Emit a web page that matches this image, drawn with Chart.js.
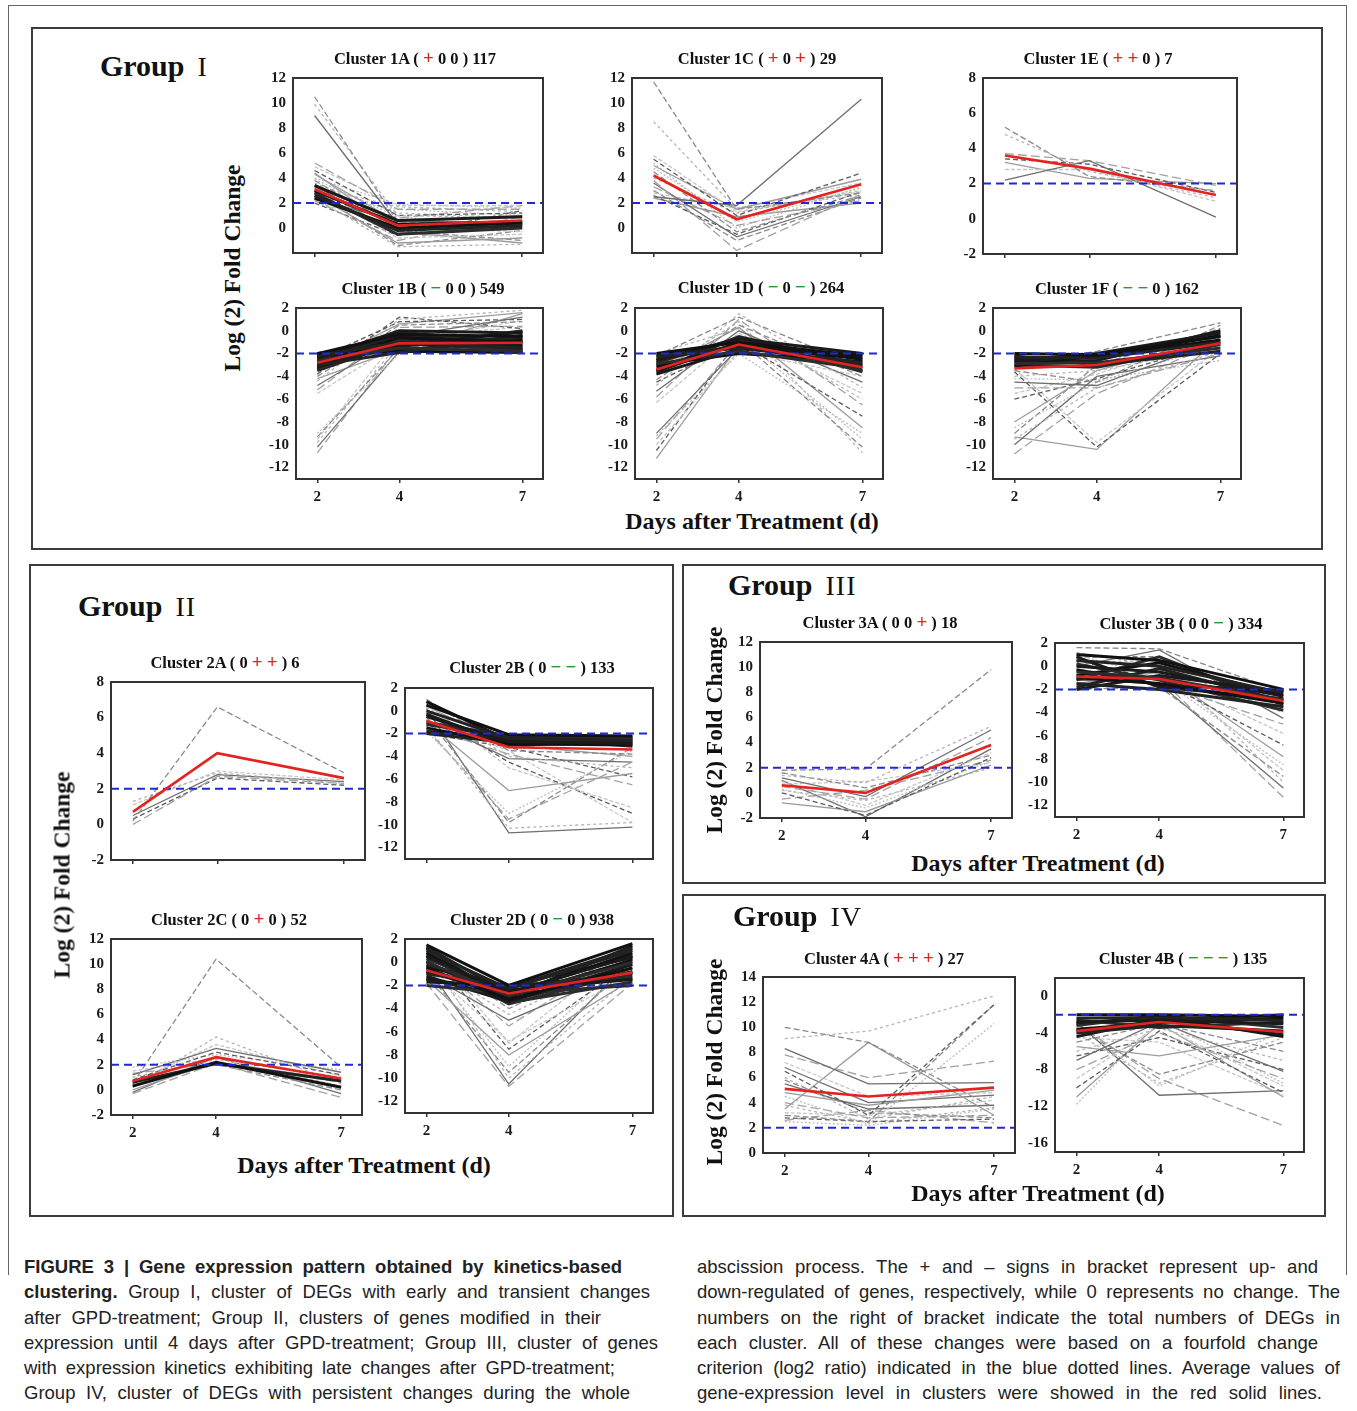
<!DOCTYPE html>
<html>
<head>
<meta charset="utf-8">
<script src="https://cdn.jsdelivr.net/npm/chart.js@4.4.0/dist/chart.umd.min.js"></script>
<style>
body{margin:0;width:1357px;height:1411px;position:relative;background:#fff;overflow:hidden;font-family:"Liberation Serif",serif;}
.frame{position:absolute;border:2px solid #3c3c3c;box-sizing:border-box;}
.outer{position:absolute;border:1px solid #666;border-bottom:none;box-sizing:border-box;}
.grp{position:absolute;font:bold 30px "Liberation Serif";color:#111;white-space:nowrap;}
.grp span{font-weight:normal;font-size:28px;margin-left:13px;letter-spacing:1px;}
.ttl{position:absolute;font:bold 16.5px "Liberation Serif";color:#111;white-space:nowrap;transform:translate(-50%,-50%);}
.ttl span{font-size:19px;}
.ylab{position:absolute;font:bold 23.5px "Liberation Serif";color:#111;white-space:nowrap;transform:translate(-50%,-50%) rotate(-90deg);}
.xlab{position:absolute;font:bold 24px "Liberation Serif";color:#111;white-space:nowrap;transform:translate(-50%,-50%);}
.cap{position:absolute;font:18.5px "Liberation Sans";color:#222;line-height:22px;height:22px;white-space:nowrap;text-align:justify;text-align-last:justify;}
canvas{position:absolute;z-index:1;}
#texts{position:absolute;left:0;top:0;z-index:2;}
</style>
</head>
<body>
<div class="outer" style="left:8px;top:5px;width:1339px;height:1270px"></div>
<div class="frame" style="left:31px;top:27px;width:1292px;height:523px"></div>
<div class="frame" style="left:29px;top:564px;width:645px;height:653px"></div>
<div class="frame" style="left:682px;top:564px;width:644px;height:320px"></div>
<div class="frame" style="left:682px;top:894px;width:644px;height:323px"></div>
<div id="charts"></div>
<div id="texts"></div>
<script>
// days sampled
const days = [2, 4, 7];

// cluster names, regulation signs, gene counts
const clusterNames = ['1A', '1C', '1E', '1B', '1D', '1F', '2A', '2B', '2C', '2D', '3A', '3B', '4A', '4B'];
const clusterSigns = ['+00', '+0+', '++0', '-00', '-0-', '--0', '0++', '0--', '0+0', '0-0', '00+', '00-', '+++', '---'];
const clusterCounts = [117, 29, 7, 549, 264, 162, 6, 133, 52, 938, 18, 334, 27, 135];

// y tick labels
const ticksUp12 = [0, 2, 4, 6, 8, 10, 12];
const ticksUp12b = [-2, 0, 2, 4, 6, 8, 10, 12];
const ticksUp8 = [-2, 0, 2, 4, 6, 8];
const ticksDown = [-12, -10, -8, -6, -4, -2, 0, 2];
const ticks4A = [0, 2, 4, 6, 8, 10, 12, 14];
const ticks4B = [-16, -12, -8, -4, 0];

// ---- Cluster 1A
const avg1A = [3.1, 0.2, 0.6];
const core1A = [[3.0, 0.3, 0.5], [2.6, -0.2, 0.2], [3.4, 0.6, 0.9], [2.8, -0.5, 0.0], [2.4, 0.0, 0.4]];
const genes1A = [[10.5, 0.5, 0.3], [9.9, 1.0, 0.8], [9.0, 0.3, 0.5], [5.2, 1.5, 1.5], [4.9, 1.8, 1.8],
  [4.6, 1.0, 1.2], [4.3, 0.5, 1.0], [4.0, 1.9, 1.6], [3.8, 0.0, 0.4], [3.6, 1.2, 0.8], [3.4, -0.5, 0.2],
  [3.2, 0.8, 1.8], [3.0, -0.8, -0.5], [2.8, 0.3, 0.0], [2.7, -1.2, -0.8], [2.6, 1.5, 1.0], [2.5, -0.2, -1.0],
  [2.4, -1.5, -1.3], [2.3, 0.6, 0.3], [2.2, -1.0, 0.9], [2.1, 0.1, -0.3], [2.0, -0.6, 1.4], [4.4, -0.3, -1.2],
  [3.9, 0.9, 0.0], [2.9, -1.4, -0.2], [3.3, 1.7, 1.3]];

// ---- Cluster 1C
const avg1C = [4.2, 0.7, 3.5];
const core1C = [];
const genes1C = [[11.7, 1.5, 2.8], [8.5, 1.5, 2.6], [2.5, 1.8, 10.3], [3.8, -1.8, 2.7], [5.8, 1.3, 2.9],
  [5.5, 1.0, 4.4], [5.0, 1.5, 3.9], [4.8, 0.5, 3.2], [4.5, -0.3, 2.6], [4.0, 1.2, 3.0], [3.6, -0.7, 2.5],
  [3.3, 0.2, 2.2], [2.8, 1.6, 3.6], [2.6, -0.5, 2.9], [2.4, 0.9, 2.0], [5.2, 0.0, 3.3], [3.0, -1.0, 2.4]];

// ---- Cluster 1E
const avg1E = [3.6, 2.85, 1.35];
const core1E = [];
const genes1E = [[5.2, 2.4, 1.6], [4.8, 2.7, 1.2], [2.2, 3.3, 0.1], [3.7, 3.3, 1.9], [2.8, 2.8, 1.0],
  [3.4, 3.1, 1.5], [3.2, 2.3, 2.0]];

// ---- Cluster 1B
const avg1B = [-2.8, -1.1, -1.05];
const core1B = [[-2.0, -0.3, -0.5], [-2.2, -1.0, -1.5], [-2.4, 0.0, -0.2], [-2.6, -1.5, -1.8], [-2.8, -0.6, -1.0],
  [-3.0, -1.9, -0.4], [-3.2, -1.2, -1.3], [-3.4, -0.8, -1.9], [-2.1, -1.7, -0.8], [-2.5, -0.4, -1.6],
  [-2.9, -1.3, -0.1], [-3.1, -0.1, -1.1], [-2.3, -1.8, -1.9], [-3.5, -1.0, -0.6], [-2.7, -0.2, -1.4],
  [-2.2, -1.4, 0.0], [-3.3, -0.7, -0.9], [-2.0, -1.1, -1.7]];
const genes1B = [[-4.0, 0.5, 0.8], [-4.4, 1.0, 1.8], [-4.8, -0.5, 1.2], [-5.2, 0.3, 0.4], [-5.5, -1.0, 0.9],
  [-3.8, 1.2, 0.2], [-4.2, -1.6, 1.5], [-9.0, -2.0, -1.0], [-9.3, -1.5, -0.5], [-9.8, -1.0, -1.5],
  [-10.2, -1.8, -0.8], [-10.7, -1.3, -1.2], [-9.5, -0.5, 0.3], [-2.5, 0.8, 1.0], [-3.0, 0.6, 1.6]];

// ---- Cluster 1D
const avg1D = [-3.4, -1.2, -3.2];
const core1D = [[-2.0, -1.0, -2.2], [-2.3, -1.5, -2.8], [-2.6, -0.7, -2.0], [-2.9, -1.8, -3.3], [-3.2, -1.2, -2.5],
  [-3.5, -0.5, -3.0], [-3.8, -1.6, -2.1], [-2.2, -0.9, -3.5], [-3.0, -2.0, -2.7], [-2.5, -1.3, -3.1],
  [-3.6, -1.0, -2.4], [-2.8, -0.6, -3.6]];
const genes1D = [[-4.3, 0.5, -4.0], [-4.8, 1.5, -5.0], [-5.3, 0.0, -4.5], [-5.8, 1.0, -6.5], [-6.3, -0.2, -5.5],
  [-4.5, -1.0, -7.5], [-3.5, 0.3, -8.5], [-3.0, -0.5, -9.5], [-2.5, -0.8, -10.2], [-3.8, 0.8, -10.7],
  [-9.0, -1.5, -3.0], [-9.5, -1.0, -2.5], [-10.0, -1.8, -4.0], [-10.5, -0.8, -3.5], [-11.2, -1.3, -2.8],
  [-9.2, -2.0, -9.0], [-2.2, 1.2, -3.2], [-2.0, 0.2, -6.0]];

// ---- Cluster 1F
const avg1F = [-3.3, -3.0, -1.1];
const core1F = [[-2.0, -2.1, -0.5], [-2.3, -2.4, -1.0], [-2.6, -2.0, -0.2], [-2.9, -2.8, -1.5], [-3.1, -2.2, -0.8],
  [-2.2, -3.0, -1.8], [-2.7, -2.6, 0.0], [-3.0, -3.2, -1.2], [-2.4, -2.3, -0.4]];
const genes1F = [[-3.5, -4.5, 0.5], [-4.0, -3.5, -1.5], [-4.5, -4.8, -0.8], [-5.0, -5.0, -2.0], [-5.5, -3.8, -0.3],
  [-6.0, -4.2, -1.0], [-8.0, -3.5, -0.5], [-8.5, -4.5, -1.2], [-9.0, -3.0, 0.2], [-9.5, -5.0, -1.8],
  [-10.0, -4.0, -2.2], [-10.8, -5.5, -1.0], [-3.3, -9.8, -1.5], [-3.6, -10.2, -2.0], [-9.3, -10.4, -0.5],
  [-4.2, -4.3, -2.6], [-2.8, -1.8, 0.7]];

// ---- Cluster 2A
const avg2A = [0.7, 4.0, 2.6];
const core2A = [];
const genes2A = [[0.2, 6.6, 2.9], [1.3, 2.9, 2.3], [0.5, 2.8, 2.4], [0.0, 2.7, 2.3], [1.1, 3.0, 2.5], [0.3, 2.6, 2.2]];

// ---- Cluster 2B
const avg2B = [-0.9, -3.2, -3.4];
const core2B = [[0.5, -2.1, -2.2], [0.0, -2.4, -2.6], [-0.5, -2.7, -2.9], [-1.0, -2.2, -2.4], [-1.5, -2.9, -3.0],
  [-1.8, -2.5, -2.3], [-0.3, -3.0, -2.8], [-1.2, -2.3, -3.1], [0.8, -2.6, -2.5], [-2.0, -2.8, -2.7]];
const genes2B = [[1.0, -3.5, -3.8], [0.3, -4.0, -5.0], [-0.8, -4.2, -4.5], [-1.5, -3.8, -6.5], [0.6, -5.0, -8.5],
  [-0.2, -4.5, -9.0], [-1.0, -7.0, -5.5], [-1.8, -9.0, -3.5], [-0.5, -9.8, -3.2], [-1.3, -10.3, -9.8],
  [0.2, -10.7, -10.2], [-1.6, -9.5, -4.5], [-0.9, -3.5, -9.8], [-2.0, -3.2, -5.8], [0.4, -3.0, -4.0]];

// ---- Cluster 2C
const avg2C = [0.7, 2.6, 0.9];
const core2C = [[0.3, 2.2, 0.2], [0.6, 2.1, 0.7]];
const genes2C = [[0.5, 10.4, 1.8], [0.2, 4.2, 0.5], [1.2, 3.3, 1.4], [-0.3, 2.1, -0.6], [1.5, 2.5, 0.3],
  [0.8, 3.0, 1.2], [0.0, 2.2, 0.8], [1.8, 2.8, 1.6], [0.4, 2.0, 0.0], [1.0, 2.4, 1.0], [-0.2, 2.6, -0.3],
  [1.3, 2.1, 0.6], [0.6, 3.6, 1.1]];

// ---- Cluster 2D
const avg2D = [-0.7, -2.7, -0.9];
const core2D = [[1.5, -2.0, 1.6], [1.0, -2.3, 1.0], [0.5, -2.6, 0.5], [0.0, -2.9, 0.0], [-0.5, -3.2, -0.5],
  [-1.0, -2.1, -1.0], [-1.5, -2.4, -1.5], [-2.0, -2.7, -2.0], [0.8, -3.0, 0.2], [-0.2, -2.2, 1.2],
  [-1.2, -3.4, -0.2], [0.3, -2.5, -1.2], [-0.8, -2.8, 0.8], [1.2, -3.3, -0.8], [-1.7, -2.0, 0.4],
  [0.6, -3.5, -1.7], [-0.4, -2.1, -1.4], [1.3, -2.7, 0.6], [-1.4, -3.0, 1.4], [0.1, -3.6, -0.9]];
const genes2D = [[1.0, -4.0, 1.0], [0.0, -4.5, 0.5], [-1.0, -5.0, -0.5], [0.5, -5.5, 1.2], [-0.5, -6.8, -1.0],
  [1.2, -7.5, 0.0], [-1.5, -8.0, -1.5], [0.2, -9.0, 0.7], [-0.8, -9.5, -0.2], [0.8, -10.0, -1.2],
  [-0.3, -10.5, 0.3], [-1.8, -10.7, -1.8], [1.5, -7.0, 1.5]];

// ---- Cluster 3A
const avg3A = [0.6, 0.0, 3.8];
const core3A = [];
const genes3A = [[1.8, 1.9, 9.8], [1.4, 0.8, 5.3], [1.2, -0.3, 5.0], [0.5, -0.5, 4.4], [0.9, -1.0, 3.2],
  [0.0, -1.8, 2.8], [-0.8, -1.5, 2.2], [0.3, -1.2, 2.5], [1.6, 0.4, 3.0], [0.2, -0.6, 2.0], [1.0, -1.9, 3.5],
  [-0.5, 0.2, 2.6], [0.7, 0.9, 2.4]];

// ---- Cluster 3B
const avg3B = [-0.9, -1.1, -3.0];
const core3B = [[1.0, 0.5, -2.0], [0.5, 0.0, -2.3], [0.0, -0.5, -2.6], [-0.5, -1.0, -2.9], [-1.0, -1.5, -3.2],
  [-1.5, -2.0, -3.5], [-2.0, -0.8, -2.2], [0.2, -1.2, -3.8], [-0.8, 0.3, -2.5], [-1.8, -0.2, -3.0],
  [0.8, -1.8, -2.8], [-1.2, 0.8, -3.3], [-0.3, -1.6, -2.1]];
const genes3B = [[1.6, 1.5, -2.2], [1.2, 0.0, -4.0], [0.0, 1.4, -4.5], [-1.0, -1.5, -5.0], [-0.5, -0.8, -5.8],
  [0.5, -1.2, -6.8], [-1.5, -0.5, -7.8], [1.0, -1.0, -8.5], [-2.0, -1.8, -9.5], [0.3, 0.5, -10.0],
  [-1.2, -1.5, -10.5], [-0.3, -1.0, -11.3], [-1.8, -0.3, -9.0], [0.8, 0.8, -3.5]];

// ---- Cluster 4A
const avg4A = [5.1, 4.5, 5.2];
const core4A = [];
const genes4A = [[10.0, 8.8, 3.6], [9.1, 9.7, 12.5], [8.3, 5.5, 5.6], [7.8, 6.0, 7.3], [7.2, 4.5, 4.8],
  [6.5, 3.0, 11.8], [3.5, 8.8, 3.0], [4.5, 2.3, 10.3], [3.0, 2.5, 11.8], [6.0, 2.7, 4.5], [5.5, 3.5, 3.8],
  [4.0, 2.8, 3.0], [3.2, 3.0, 4.2], [2.8, 2.5, 2.7], [4.8, 3.8, 5.0], [2.5, 2.2, 3.5], [5.8, 3.2, 2.8],
  [3.8, 2.4, 3.6], [6.8, 4.0, 4.6], [2.6, 3.4, 2.4]];

// ---- Cluster 4B
const avg4B = [-3.8, -2.8, -3.9];
const core4B = [[-2.0, -2.0, -2.2], [-2.4, -2.3, -2.6], [-2.8, -2.6, -3.0], [-3.2, -2.1, -3.4], [-3.6, -2.9, -2.4],
  [-4.0, -3.2, -3.8], [-4.4, -2.5, -4.2], [-2.6, -3.4, -2.8], [-3.0, -2.2, -4.4], [-3.8, -2.7, -2.0]];
const genes4B = [[-5.0, -3.0, -6.0], [-6.0, -3.5, -7.0], [-7.0, -2.8, -8.2], [-8.0, -4.0, -9.0], [-9.0, -3.2, -9.8],
  [-10.0, -3.8, -10.5], [-11.0, -3.0, -11.0], [-11.8, -2.5, -9.5], [-3.5, -8.5, -5.0], [-4.0, -9.5, -4.5],
  [-2.8, -10.8, -10.3], [-3.0, -9.0, -14.1], [-4.5, -5.0, -10.8], [-6.5, -4.5, -8.0], [-5.5, -6.5, -4.2],
  [-3.2, -9.8, -3.8]];

const X_MIN = 1.48, X_MAX = 7.5;
const YW = 40, XH = 28, PT = 10, PR = 6;

const panels = [
  { box: [293, 72, 250, 181], y: [-2, 12], ticks: ticksUp12, thr: 2, avg: avg1A, core: core1A, genes: genes1A, xl: false, t: [415, 58] },
  { box: [632, 72, 250, 181], y: [-2, 12], ticks: ticksUp12, thr: 2, avg: avg1C, core: core1C, genes: genes1C, xl: false, t: [757, 58] },
  { box: [983, 72, 254, 182], y: [-2, 8], ticks: ticksUp8, thr: 2, avg: avg1E, core: core1E, genes: genes1E, xl: false, t: [1098, 58] },
  { box: [296, 302, 247, 177], y: [-13, 2], ticks: ticksDown, thr: -2, avg: avg1B, core: core1B, genes: genes1B, xl: true, t: [423, 288] },
  { box: [635, 302, 248, 177], y: [-13, 2], ticks: ticksDown, thr: -2, avg: avg1D, core: core1D, genes: genes1D, xl: true, t: [761, 287] },
  { box: [993, 302, 248, 177], y: [-13, 2], ticks: ticksDown, thr: -2, avg: avg1F, core: core1F, genes: genes1F, xl: true, t: [1117, 288] },
  { box: [111, 676, 254, 184], y: [-2, 8], ticks: ticksUp8, thr: 2, avg: avg2A, core: core2A, genes: genes2A, xl: false, t: [225, 662] },
  { box: [405, 682, 248, 177], y: [-13, 2], ticks: ticksDown, thr: -2, avg: avg2B, core: core2B, genes: genes2B, xl: false, t: [532, 667] },
  { box: [111, 933, 251, 182], y: [-2, 12], ticks: ticksUp12b, thr: 2, avg: avg2C, core: core2C, genes: genes2C, xl: true, t: [229, 919] },
  { box: [405, 933, 248, 180], y: [-13, 2], ticks: ticksDown, thr: -2, avg: avg2D, core: core2D, genes: genes2D, xl: true, t: [532, 919] },
  { box: [760, 636, 252, 182], y: [-2, 12], ticks: ticksUp12b, thr: 2, avg: avg3A, core: core3A, genes: genes3A, xl: true, t: [880, 622] },
  { box: [1055, 637, 249, 180], y: [-13, 2], ticks: ticksDown, thr: -2, avg: avg3B, core: core3B, genes: genes3B, xl: true, t: [1181, 623] },
  { box: [763, 971, 252, 182], y: [0, 14], ticks: ticks4A, thr: 2, avg: avg4A, core: core4A, genes: genes4A, xl: true, t: [884, 958] },
  { box: [1055, 972, 249, 180], y: [-17, 2], ticks: ticks4B, thr: -2, avg: avg4B, core: core4B, genes: genes4B, xl: true, t: [1183, 958] }
];

const grayStyles = [
  { c: '#8a8a8a', d: [6, 3] }, { c: '#b4b4b4', d: [3, 3] }, { c: '#6e6e6e', d: [] }, { c: '#a2a2a2', d: [9, 4] },
  { c: '#c6c6c6', d: [4, 2] }, { c: '#5c5c5c', d: [5, 3] }, { c: '#9c9c9c', d: [] }, { c: '#bdbdbd', d: [2, 2] }
];
const coreColors = ['#111', '#222', '#1a1a1a', '#2c2c2c'];

const tickFont = { family: '"Liberation Serif", serif', size: 15, weight: 'bold' };

const toPts = arr => arr.map((v, i) => ({ x: days[i], y: v }));

const boxPlugin = {
  id: 'box',
  afterDatasetsDraw(chart) {
    const { ctx, chartArea: a } = chart;
    ctx.save();
    ctx.strokeStyle = '#333';
    ctx.lineWidth = 2;
    ctx.strokeRect(a.left, a.top, a.right - a.left, a.bottom - a.top);
    ctx.restore();
  }
};

function buildDatasets(p) {
  const ds = [];
  ds.push({ data: toPts(p.avg), borderColor: '#e3231f', borderWidth: 2.6 });
  ds.push({ data: [{ x: X_MIN, y: p.thr }, { x: X_MAX, y: p.thr }], borderColor: '#2028d0', borderWidth: 2, borderDash: [8, 5] });
  p.core.forEach((g, i) => {
    ds.push({ data: toPts(g), borderColor: coreColors[i % coreColors.length], borderWidth: 3 });
  });
  p.genes.forEach((g, i) => {
    const s = grayStyles[i % grayStyles.length];
    ds.push({ data: toPts(g), borderColor: s.c, borderDash: s.d, borderWidth: 1.3 });
  });
  return ds;
}

function signHTML(sg) {
  return sg.split('').map(c => c === '+' ? '<span style="color:#e3231f">+</span>'
    : c === '-' ? '<span style="color:#1e9a2a">&minus;</span>' : '0').join(' ');
}

const texts = document.getElementById('texts');
const holder = document.getElementById('charts');

panels.forEach((p, k) => {
  const t = document.createElement('div');
  t.className = 'ttl';
  t.style.left = p.t[0] + 'px';
  t.style.top = p.t[1] + 'px';
  t.innerHTML = 'Cluster ' + clusterNames[k] + ' ( ' + signHTML(clusterSigns[k]) + ' ) ' + clusterCounts[k];
  texts.appendChild(t);

  const [bl, bt, bw, bh] = p.box;
  const cv = document.createElement('canvas');
  cv.width = bw + YW + PR;
  cv.height = bh + PT + XH;
  cv.style.left = (bl - YW) + 'px';
  cv.style.top = (bt - PT) + 'px';
  holder.appendChild(cv);

  new Chart(cv, {
    type: 'line',
    data: { datasets: buildDatasets(p) },
    options: {
      responsive: false,
      animation: false,
      devicePixelRatio: 1,
      layout: { padding: { top: PT, right: PR, left: 0, bottom: 0 } },
      elements: { point: { radius: 0 }, line: { tension: 0 } },
      plugins: { legend: { display: false }, tooltip: { enabled: false } },
      scales: {
        x: {
          type: 'linear', min: X_MIN, max: X_MAX,
          afterBuildTicks: s => { s.ticks = days.map(v => ({ value: v })); },
          afterFit: s => { s.height = XH; },
          grid: { display: true, drawOnChartArea: false, drawTicks: true, tickLength: 4, color: '#333', lineWidth: 1.5 },
          border: { display: false },
          ticks: { display: p.xl, padding: 5, font: tickFont, color: '#1a1a1a' }
        },
        y: {
          min: p.y[0], max: p.y[1],
          afterBuildTicks: s => { s.ticks = p.ticks.map(v => ({ value: v })); },
          afterFit: s => { s.width = YW; },
          grid: { display: false, drawTicks: false },
          border: { display: false },
          ticks: { padding: 7, font: tickFont, color: '#1a1a1a' }
        }
      }
    },
    plugins: [boxPlugin]
  });
});

// group headings and axis titles
const groupHeads = [[100, 49, 'I'], [78, 589, 'II'], [728, 568, 'III'], [733, 899, 'IV']];
groupHeads.forEach(([x, y, r]) => {
  const d = document.createElement('div');
  d.className = 'grp';
  d.style.left = x + 'px';
  d.style.top = y + 'px';
  d.innerHTML = 'Group<span>' + r + '</span>';
  texts.appendChild(d);
});

const labels = [
  ['ylab', 232, 268, 'Log (2) Fold Change'], ['ylab', 62, 875, 'Log (2) Fold Change'],
  ['ylab', 714, 730, 'Log (2) Fold Change'], ['ylab', 714, 1062, 'Log (2) Fold Change'],
  ['xlab', 752, 521, 'Days after Treatment (d)'], ['xlab', 364, 1165, 'Days after Treatment (d)'],
  ['xlab', 1038, 863, 'Days after Treatment (d)'], ['xlab', 1038, 1193, 'Days after Treatment (d)']
];
labels.forEach(([cls, x, y, s]) => {
  const d = document.createElement('div');
  d.className = cls;
  d.style.left = x + 'px';
  d.style.top = y + 'px';
  d.textContent = s;
  texts.appendChild(d);
});

// caption lines: [left, right, y, html]
const caption = [
  [24, 622, 1267, '<b>FIGURE 3 | Gene expression pattern obtained by kinetics-based</b>'],
  [24, 650, 1292, '<b>clustering.</b> Group I, cluster of DEGs with early and transient changes'],
  [24, 601, 1318, 'after GPD-treatment; Group II, clusters of genes modified in their'],
  [24, 658, 1343, 'expression until 4 days after GPD-treatment; Group III, cluster of genes'],
  [24, 615, 1368, 'with expression kinetics exhibiting late changes after GPD-treatment;'],
  [24, 630, 1393, 'Group IV, cluster of DEGs with persistent changes during the whole'],
  [697, 1318, 1267, 'abscission process. The + and – signs in bracket represent up- and'],
  [697, 1340, 1292, 'down-regulated of genes, respectively, while 0 represents no change. The'],
  [697, 1340, 1318, 'numbers on the right of bracket indicate the total numbers of DEGs in'],
  [697, 1318, 1343, 'each cluster. All of these changes were based on a fourfold change'],
  [697, 1340, 1368, 'criterion (log2 ratio) indicated in the blue dotted lines. Average values of'],
  [697, 1322, 1393, 'gene-expression level in clusters were showed in the red solid lines.']
];
caption.forEach(([l, r, y, h]) => {
  const d = document.createElement('div');
  d.className = 'cap';
  d.style.left = l + 'px';
  d.style.width = (r - l) + 'px';
  d.style.top = (y - 11) + 'px';
  d.innerHTML = h;
  texts.appendChild(d);
});
</script>
</body>
</html>
